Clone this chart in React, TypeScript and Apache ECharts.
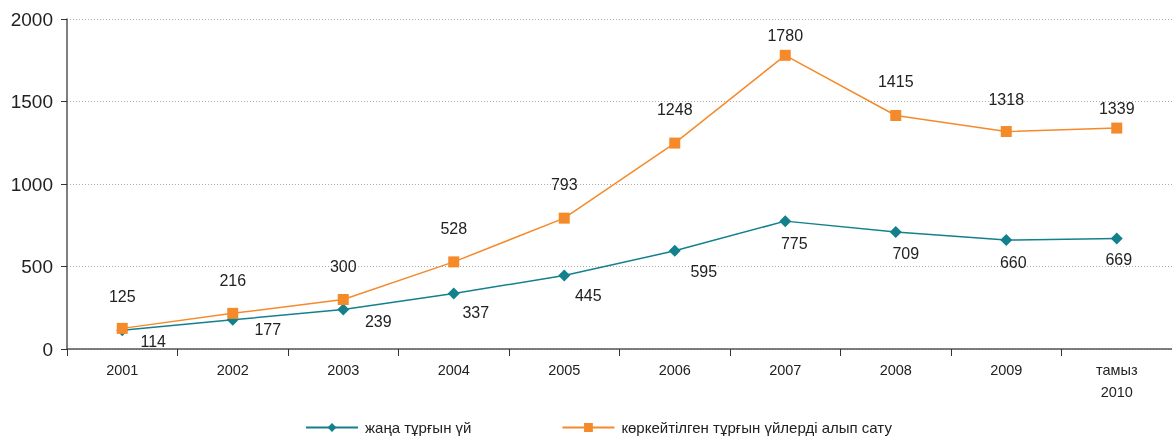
import React, { useEffect, useRef } from "react";
import * as echarts from "echarts";

const categories = ["2001", "2002", "2003", "2004", "2005", "2006", "2007", "2008", "2009", "тамыз\n2010"];
const newHousing = [114, 177, 239, 337, 445, 595, 775, 709, 660, 669];
const resale = [125, 216, 300, 528, 793, 1248, 1780, 1415, 1318, 1339];
const yTicks = [0, 500, 1000, 1500, 2000];
const seriesNames = ["жаңа тұрғын үй", "көркейтілген тұрғын үйлерді алып сату"];

const newLabelOffsets: number[][] = [
  [31, 11], [35, 10], [35, 12], [22, 19], [24, 20], [29, 21], [9, 22], [10, 21], [7, 22], [2, 21],
];
const resaleLabelDist = [18.5, 19.5, 19.5, 19.5, 20.5, 20.5, 6, 20.5, 18.5, 6.5];

export default function App() {
  const ref = useRef<HTMLDivElement>(null);
  useEffect(() => {
    const chart = echarts.init(ref.current!, undefined, { renderer: "svg" });
    const font = "'Liberation Sans', Arial, sans-serif";
    chart.setOption({
      animation: false,
      textStyle: { fontFamily: font },
      grid: { left: 67, right: 0, top: 19, bottom: 87 },
      legend: {
        bottom: 1,
        left: 305,
        padding: 0,
        itemGap: 90,
        itemWidth: 52,
        itemHeight: 11,
        textStyle: { fontSize: 15, color: "#222", fontFamily: font, padding: [0, 0, 0, 2] },
        data: seriesNames,
      },
      xAxis: {
        type: "category",
        data: categories,
        boundaryGap: true,
        axisLine: { lineStyle: { color: "#555", width: 1.5 } },
        axisTick: { show: true, length: 7, lineStyle: { color: "#333" } },
        axisLabel: { fontSize: 14.5, color: "#222", margin: 10, lineHeight: 22 },
      },
      yAxis: {
        type: "value",
        min: 0,
        max: 2000,
        interval: 500,
        axisLine: { show: true, lineStyle: { color: "#555", width: 1.5 } },
        axisTick: { show: true, length: 6, lineStyle: { color: "#333" } },
        axisLabel: {
          fontSize: 19,
          color: "#222",
          margin: 14,
          formatter: (v: number) => (yTicks.includes(v) ? String(v) : ""),
        },
        splitLine: { show: true, lineStyle: { color: "#aaa", type: [1, 2], width: 1 } },
      },
      series: [
        {
          name: seriesNames[0],
          type: "line",
          data: newHousing.map((v, i) => ({
            value: v,
            label: { offset: newLabelOffsets[i] },
          })),
          symbol: "diamond",
          symbolSize: 12,
          color: "#13808d",
          lineStyle: { width: 1.5, color: "#13808d" },
          itemStyle: { color: "#13808d" },
          label: {
            show: true,
            position: "inside",
            fontSize: 16,
            color: "#222",
          },
          z: 2,
        },
        {
          name: seriesNames[1],
          type: "line",
          data: resale.map((v, i) => ({
            value: v,
            label: { distance: resaleLabelDist[i] },
          })),
          symbol: "rect",
          symbolSize: 11,
          color: "#f58a2b",
          lineStyle: { width: 1.5, color: "#f58a2b" },
          itemStyle: { color: "#f58a2b" },
          label: {
            show: true,
            position: "top",
            fontSize: 16,
            color: "#222",
          },
          z: 3,
        },
      ],
    });
    return () => chart.dispose();
  }, []);
  return (
    <div
      ref={ref}
      style={{ position: "fixed", left: 0, top: 0, width: 1172, height: 436 }}
    />
  );
}
